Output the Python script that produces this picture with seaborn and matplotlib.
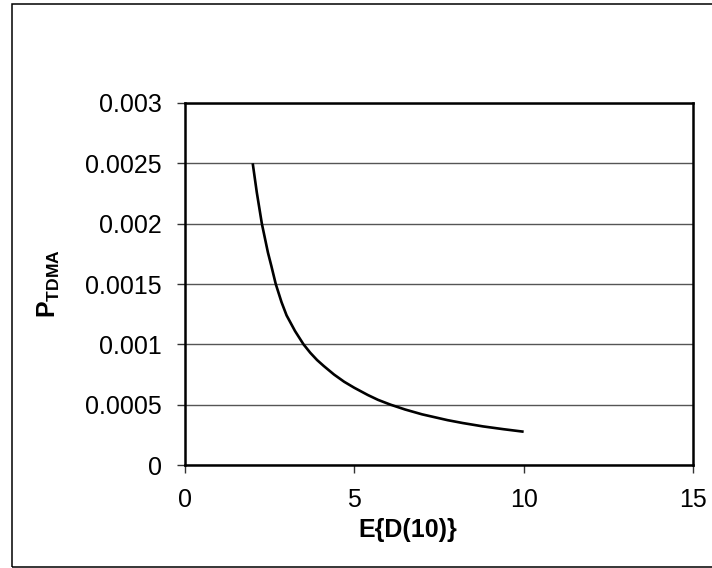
import matplotlib
matplotlib.use("Agg")
import matplotlib.pyplot as plt
from matplotlib.patches import Rectangle
from matplotlib.ticker import FuncFormatter
import seaborn as sns
import pandas as pd

# Mean delay E{D(10)} against the TDMA access probability
e_delay = [2.0, 2.12, 2.27, 2.45, 2.55, 2.68, 2.85, 3.0, 3.25, 3.5, 3.7, 3.9,
           4.1, 4.4, 4.7, 5.0, 5.4, 5.7, 6.07, 6.5, 7.0, 7.75, 8.2, 8.8, 9.4, 10.0]
p_tdma = [0.0025, 0.00226, 0.0020, 0.00176, 0.00165, 0.0015, 0.00135, 0.00124,
          0.00111, 0.0010, 0.00093, 0.00087, 0.00082, 0.00075, 0.00069, 0.00064,
          0.00058, 0.00054, 0.0005, 0.00046, 0.00042, 0.000372, 0.000348,
          0.00032, 0.000297, 0.000276]

x_ticks = [0, 5, 10, 15]
y_ticks = [0, 0.0005, 0.001, 0.0015, 0.002, 0.0025, 0.003]

sns.set_theme(style="white")
plt.rcParams["font.family"] = ["Liberation Sans", "DejaVu Sans"]
plt.rcParams["mathtext.fontset"] = "custom"
plt.rcParams["mathtext.rm"] = "Liberation Sans"
plt.rcParams["mathtext.bf"] = "Liberation Sans:bold"

df = pd.DataFrame({"E{D(10)}": e_delay, "P_TDMA": p_tdma})

fig = plt.figure(figsize=(7.12, 5.68), dpi=100)
fig.patch.set_facecolor("white")
ax = fig.add_axes([0.2598, 0.1813, 0.7135, 0.6374])
ax.set_facecolor("white")

sns.lineplot(data=df, x="E{D(10)}", y="P_TDMA", ax=ax, color="black",
             linewidth=1.9, sort=True)
for ln in ax.get_lines():
    ln.set_solid_joinstyle("round")
    ln.set_solid_capstyle("butt")

ax.set_xlim(0, 15)
ax.set_ylim(0, 0.003)
ax.set_xticks(x_ticks)
ax.set_yticks(y_ticks)
ax.yaxis.set_major_formatter(FuncFormatter(lambda v, _: "%g" % v))
ax.xaxis.set_major_formatter(FuncFormatter(lambda v, _: "%g" % v))

ax.yaxis.grid(True, color="#555555", linewidth=1.0)
ax.xaxis.grid(False)
ax.set_axisbelow(True)

for side in ["left", "right", "top", "bottom"]:
    ax.spines[side].set_visible(True)
    ax.spines[side].set_color("black")
    ax.spines[side].set_linewidth(1.8)

ax.tick_params(axis="both", which="major", direction="out", length=5.5,
               width=1.0, color="#333333", labelsize=18, pad=11,
               labelcolor="black", left=True, bottom=True)

ax.set_xlabel("E{D(10)}", fontsize=18, fontweight="bold", color="black")
ax.set_ylabel(r"$\mathbf{P}_{\mathbf{TDMA}}$", fontsize=18, color="black")
ax.xaxis.set_label_coords(0.439, -0.146)
ax.yaxis.set_label_coords(-0.242, 0.5)

# Frame around the whole chart area
fig.patches.append(Rectangle((12 / 712, 1 / 568), 1.2, 1 - 4.5 / 568,
                             transform=fig.transFigure, fill=False,
                             edgecolor="black", linewidth=1.1, clip_on=False))

fig.savefig("out.png", dpi=100, facecolor="white")
